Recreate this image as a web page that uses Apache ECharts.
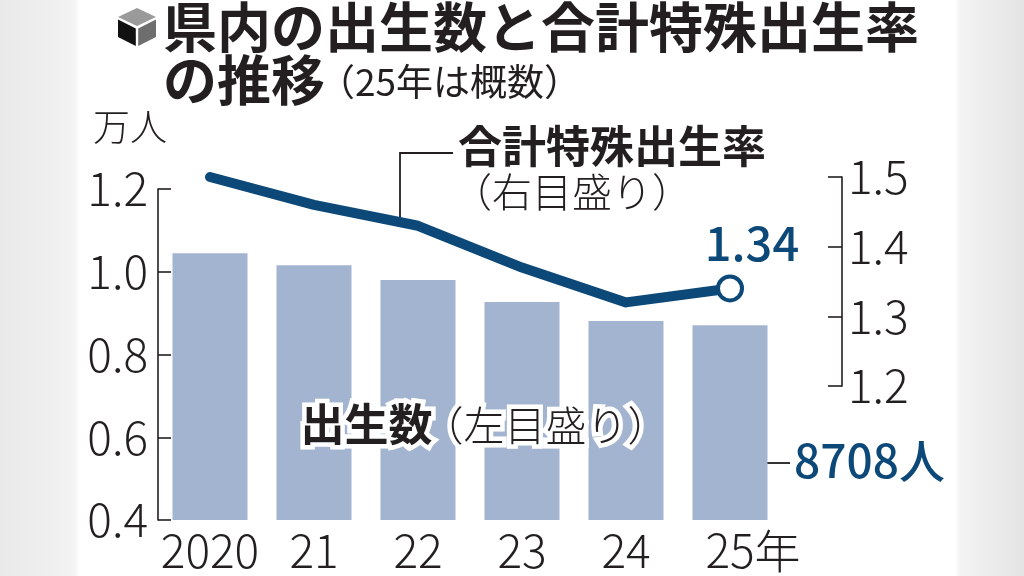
<!DOCTYPE html>
<html><head><meta charset="utf-8">
<script src="https://cdn.jsdelivr.net/npm/echarts@6/dist/echarts.min.js"></script>
<style>
html,body{margin:0;padding:0;}
body{width:1024px;height:576px;background:linear-gradient(to right,#e9e9e9 0px,#f2f2f2 70px,#f6f6f6 76px,#fff 79px,#fff 955px,#f4f4f4 959px,#ececec 990px,#e4e4e4 1024px);}
#c{width:1024px;height:576px;}
</style></head>
<body><div id="c"></div>
<script>
const years = ['2020','21','22','23','24','25'];
const births = [1.045, 1.016, 0.980, 0.927, 0.881, 0.8708];   // 万人
const tfr = [1.50, 1.46, 1.43, 1.37, 1.32, 1.34];
const leftTicks = {min:0.4, max:1.2, interval:0.2};
const rightTicks = {min:1.2, max:1.5, interval:0.1};

const NAVY = '#0c4878';
const BAR = '#a3b4d0';
const INK = '#231f20';
const FF = '"Noto Sans CJK JP","Noto Sans",sans-serif';

const chart = echarts.init(document.getElementById('c'), null, {renderer:'canvas'});
const last = births.length - 1;

const lineData = tfr.map((v,i)=> i===last ? {
  value:v, symbol:'circle', symbolSize:24,
  itemStyle:{color:'#fff', borderColor:NAVY, borderWidth:4},
  label:{show:true, position:'top', distance:6, offset:[22,-2], formatter: p=>p.value.toFixed(2),
    fontFamily:FF, fontSize:47, fontWeight:500, color:NAVY}
} : {value:v, symbol:'none'});

const option = {
  backgroundColor:'transparent',
  animation:false,
  grid:[
    {left:158, right:242, top:189, bottom:56},
    {left:158, right:242, top:177, bottom:190}
  ],
  xAxis:[
    {type:'category', gridIndex:0, data:years,
     axisLine:{show:false}, axisTick:{show:false},
     axisLabel:{interval:0, hideOverlap:false, fontFamily:FF, fontSize:46, fontWeight:300, color:INK, margin:8, lineHeight:46,
       formatter:(v,i)=> i===last ? '{p| }'+v+'年' : v,
       rich:{p:{width:46}}}},
    {type:'category', gridIndex:1, data:years, show:false}
  ],
  yAxis:[
    {type:'value', gridIndex:0, position:'left', min:leftTicks.min, max:leftTicks.max, interval:leftTicks.interval,
     axisLine:{show:true, lineStyle:{color:INK, width:1.6}},
     axisTick:{show:true, inside:true, length:13, lineStyle:{color:INK, width:1.6}},
     axisLabel:{formatter:v=>v.toFixed(1), fontFamily:FF, fontSize:46, fontWeight:300, color:INK, margin:10},
     splitLine:{show:false}},
    {type:'value', gridIndex:1, position:'right', offset:60, min:rightTicks.min, max:rightTicks.max, interval:rightTicks.interval,
     axisLine:{show:true, lineStyle:{color:INK, width:1.6}},
     axisTick:{show:true, inside:true, length:14, lineStyle:{color:INK, width:1.6}},
     axisLabel:{formatter:v=>v.toFixed(1), fontFamily:FF, fontSize:46, fontWeight:300, color:INK, margin:6},
     splitLine:{show:false}}
  ],
  series:[
    {type:'bar', xAxisIndex:0, yAxisIndex:0, data:births, barWidth:75,
     itemStyle:{color:BAR}, z:1},
    {type:'line', xAxisIndex:1, yAxisIndex:1, data:lineData, symbol:'circle', showSymbol:true,
     lineStyle:{color:NAVY, width:10, cap:'round', join:'round'},
     itemStyle:{color:NAVY}, z:5}
  ],
  graphic:[
    // cube icon
    {type:'polygon', shape:{points:[[118,17],[137,8],[156,17],[137,26]]}, style:{fill:'#9a9a9a'}},
    {type:'polygon', shape:{points:[[118,19.5],[135.8,28.5],[135.8,46],[118,37]]}, style:{fill:'#111'}},
    {type:'polygon', shape:{points:[[138.2,28.5],[156,19.5],[156,37],[138.2,46]]}, style:{fill:'#6e6e6e'}},
    // title
    {type:'text', left:163, top:0, style:{text:'県内の出生数と合計特殊出生率', font:'bold 54px '+FF, fill:INK}},
    {type:'text', left:163, top:53, style:{text:'の推移', font:'bold 54px '+FF, fill:INK}},
    {type:'text', left:318, top:63, style:{text:'（25年は概数）', font:'normal 37px '+FF, fill:INK}},
    // unit
    {type:'text', left:93, top:108, style:{text:'万人', font:'300 37px '+FF, fill:INK}},
    // TFR annotation
    {type:'polyline', shape:{points:[[400,219],[400,153],[453,153]]}, style:{stroke:INK, lineWidth:1.8, fill:null}},
    {type:'text', left:458, top:124, style:{text:'合計特殊出生率', font:'bold 44px '+FF, fill:INK}},
    {type:'text', left:452, top:172, style:{text:'（右目盛り）', font:'300 40px '+FF, fill:INK}},
    // births annotation with halo
    {type:'text', left:296, top:398, z:20, style:{text:'出生数', font:'bold 44px '+FF, fill:INK, stroke:'#fff', lineWidth:9, strokeFirst:true}},
    {type:'text', left:418, top:400, z:20, style:{text:'（左目盛り）', font:'300 41px '+FF, fill:INK, stroke:'#fff', lineWidth:9, strokeFirst:true}},
    {type:'line', shape:{x1:760, y1:463, x2:790, y2:463}, style:{stroke:'#333', lineWidth:2}},
    {type:'text', left:794, top:438, style:{text:Math.round(births[last]*10000)+'人', font:'500 46px '+FF, fill:NAVY}}
  ]
};
chart.setOption(option);
</script>
</body></html>
